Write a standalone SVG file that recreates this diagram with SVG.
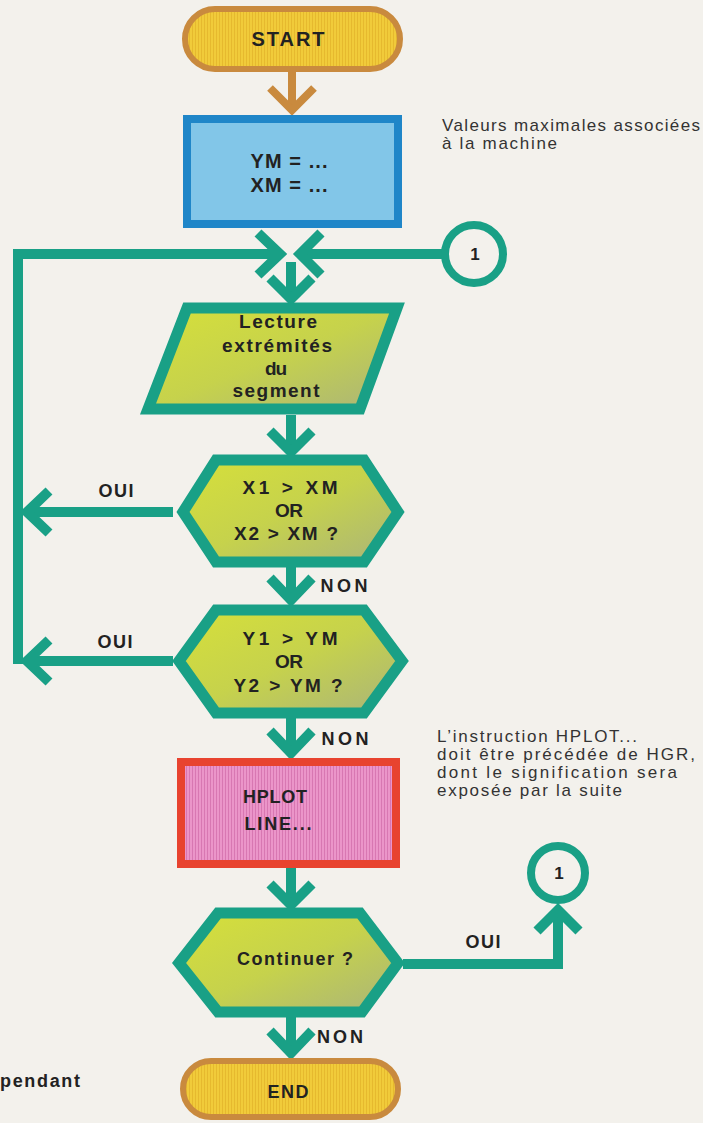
<svg xmlns="http://www.w3.org/2000/svg" width="703" height="1123" viewBox="0 0 703 1123">
<defs>
<style>
.g{fill:none;stroke:#19a086;stroke-width:10;stroke-linejoin:miter;stroke-linecap:butt}
.br{fill:none;stroke:#c98a3e;stroke-width:8;stroke-linejoin:miter}
.lb{font-family:"Liberation Sans",Arial,sans-serif;font-weight:bold;fill:#222;text-anchor:middle}
.an{font-family:"Liberation Sans",Arial,sans-serif;font-size:17px;fill:#333}
.shape{stroke:#19a086;stroke-width:11;stroke-linejoin:miter}
</style>
<linearGradient id="yg" x1="0" y1="0" x2="1" y2="1">
<stop offset="0" stop-color="#d6e03a"/>
<stop offset="0.5" stop-color="#c6d24c"/>
<stop offset="1" stop-color="#aab47a"/>
</linearGradient>
<pattern id="ystripe" width="3" height="10" patternUnits="userSpaceOnUse">
<rect width="3" height="10" fill="#f1cb3a"/>
<rect width="1" height="10" fill="#e6b92e"/>
</pattern>
<pattern id="pstripe" width="3" height="10" patternUnits="userSpaceOnUse">
<rect width="3" height="10" fill="#eb95c9"/>
<rect width="1" height="10" fill="#d877b2"/>
</pattern>
</defs>
<rect width="703" height="1123" fill="#f3f1ec"/>

<g id="connectors">
<line x1="292" y1="72" x2="292" y2="110" class="br"/>
<polyline points="270,88 292,110 314,88" class="br"/>
<polyline points="18,664 18,254 280,254" class="g"/>
<polyline points="258,233 280,254 258,275" class="g"/>
<line x1="444" y1="254" x2="300" y2="254" class="g"/>
<polyline points="321,233 300,254 321,275" class="g"/>
<line x1="291" y1="262" x2="291" y2="299" class="g"/>
<polyline points="270,278 291,299 312,278" class="g"/>
<line x1="291" y1="415" x2="291" y2="452" class="g"/>
<polyline points="270,431 291,452 312,431" class="g"/>
<line x1="173" y1="512" x2="27" y2="512" class="g"/>
<polyline points="49,491 27,512 49,533" class="g"/>
<line x1="291" y1="567" x2="291" y2="600" class="g"/>
<polyline points="270,578 291,600 312,578" class="g"/>
<line x1="173" y1="661" x2="27" y2="661" class="g"/>
<polyline points="49,640 27,661 49,682" class="g"/>
<line x1="291" y1="718" x2="291" y2="753" class="g"/>
<polyline points="270,731 291,753 312,731" class="g"/>
<line x1="291" y1="868" x2="291" y2="905" class="g"/>
<polyline points="270,884 291,905 312,884" class="g"/>
<polyline points="403,964 558,964 558,910" class="g"/>
<polyline points="537,931 558,910 579,931" class="g"/>
<line x1="291" y1="1017" x2="291" y2="1053" class="g"/>
<polyline points="270,1031 291,1053 312,1031" class="g"/>
</g>

<g id="labels">
<text x="116" y="497" class="lb" font-size="18" textLength="35">OUI</text>
<text x="344" y="592" class="lb" font-size="18" textLength="47">NON</text>
<text x="115" y="648" class="lb" font-size="18" textLength="35">OUI</text>
<text x="345" y="745" class="lb" font-size="18" textLength="47">NON</text>
<text x="483" y="948" class="lb" font-size="18" textLength="35">OUI</text>
<text x="340" y="1043" class="lb" font-size="18" textLength="46">NON</text>
</g>

<g id="start">
<rect x="185" y="9" width="215" height="60" rx="30" fill="url(#ystripe)" stroke="#c98a3e" stroke-width="6"/>
<text x="288" y="46" class="lb" font-size="20" textLength="73">START</text>
</g>

<g id="init">
<rect x="187" y="119" width="211" height="105" fill="#82c6e8" stroke="#1f86c8" stroke-width="8"/>
<text x="289" y="168" class="lb" font-size="20" textLength="77">YM = ...</text>
<text x="289" y="192" class="lb" font-size="20" textLength="77">XM = ...</text>
</g>

<g id="note1">
<text x="442" y="131" class="an" textLength="258" lengthAdjust="spacing">Valeurs maximales associées</text>
<text x="442" y="149" class="an" textLength="115" lengthAdjust="spacing">à la machine</text>
</g>

<g id="conn1top">
<circle cx="474" cy="254" r="29" fill="#f3f1ec" stroke="#19a086" stroke-width="8"/>
<text x="475" y="260" class="lb" font-size="17">1</text>
</g>

<g id="read">
<polygon points="187,308 397,308 360,409 148,409" fill="url(#yg)" class="shape"/>
<text x="278" y="328" class="lb" font-size="19" textLength="78">Lecture</text>
<text x="277" y="352" class="lb" font-size="19" textLength="110">extrémités</text>
<text x="276" y="375" class="lb" font-size="19" textLength="22">du</text>
<text x="276" y="397" class="lb" font-size="19" textLength="87">segment</text>
</g>

<g id="testx">
<polygon points="183,512 216,460 364,460 398,512 364,562 216,562" fill="url(#yg)" class="shape"/>
<text x="290" y="494" class="lb" font-size="19" textLength="95">X1 &gt; XM</text>
<text x="289" y="517" class="lb" font-size="19" textLength="28">OR</text>
<text x="286" y="540" class="lb" font-size="19" textLength="104">X2 &gt; XM ?</text>
</g>

<g id="testy">
<polygon points="179,661 216,610 364,610 402,661 364,713 216,713" fill="url(#yg)" class="shape"/>
<text x="290" y="645" class="lb" font-size="19" textLength="95">Y1 &gt; YM</text>
<text x="289" y="668" class="lb" font-size="19" textLength="28">OR</text>
<text x="288" y="692" class="lb" font-size="19" textLength="109">Y2 &gt; YM ?</text>
</g>

<g id="hplot">
<rect x="181" y="762" width="215" height="102" fill="url(#pstripe)" stroke="#e8432f" stroke-width="8"/>
<text x="275" y="803" class="lb" font-size="18" textLength="64">HPLOT</text>
<text x="278" y="830" class="lb" font-size="18" textLength="67">LINE...</text>
</g>

<g id="note2">
<text x="437" y="742" class="an" textLength="200" lengthAdjust="spacing">L’instruction HPLOT...</text>
<text x="437" y="760" class="an" textLength="258" lengthAdjust="spacing">doit être précédée de HGR,</text>
<text x="437" y="778" class="an" textLength="240" lengthAdjust="spacing">dont le signification sera</text>
<text x="437" y="796" class="an" textLength="185" lengthAdjust="spacing">exposée par la suite</text>
</g>

<g id="continue">
<polygon points="179,963 218,913 360,913 398,963 362,1012 218,1012" fill="url(#yg)" class="shape"/>
<text x="295" y="965" class="lb" font-size="18" textLength="116">Continuer  ?</text>
</g>

<g id="conn1bottom">
<circle cx="558" cy="873" r="27" fill="#f3f1ec" stroke="#19a086" stroke-width="8"/>
<text x="559" y="879" class="lb" font-size="17">1</text>
</g>

<g id="end">
<rect x="183" y="1061" width="215" height="56" rx="28" fill="url(#ystripe)" stroke="#c98a3e" stroke-width="6"/>
<text x="288" y="1098" class="lb" font-size="18" textLength="41">END</text>
</g>

<g id="sidetext">
<text x="0" y="1087" font-family="Liberation Sans,Arial,sans-serif" font-weight="bold" font-size="18" fill="#222" textLength="80">pendant</text>
</g>
</svg>
